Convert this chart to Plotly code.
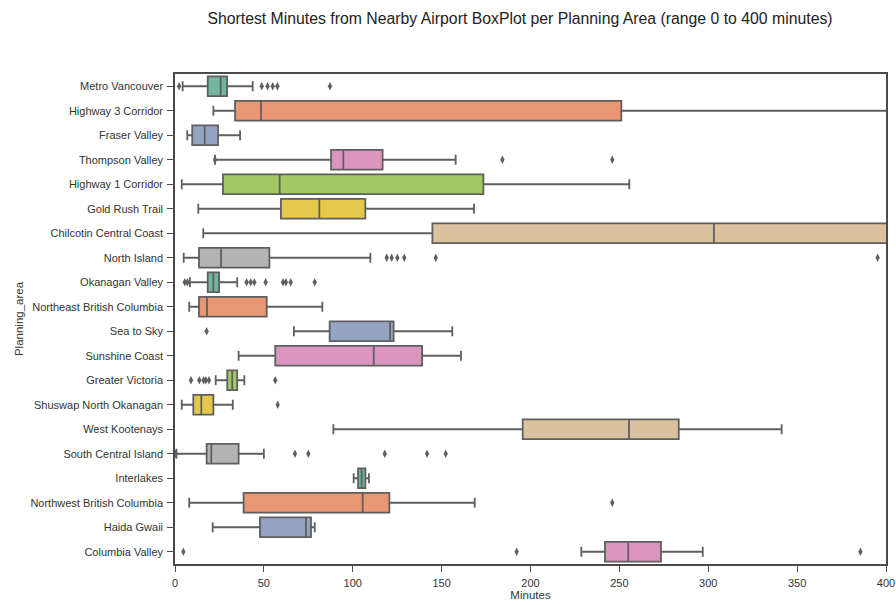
import plotly.graph_objects as go

categories = ["Metro Vancouver", "Highway 3 Corridor", "Fraser Valley", "Thompson Valley",
              "Highway 1 Corridor", "Gold Rush Trail", "Chilcotin Central Coast", "North Island",
              "Okanagan Valley", "Northeast British Columbia", "Sea to Sky", "Sunshine Coast",
              "Greater Victoria", "Shuswap North Okanagan", "West Kootenays", "South Central Island",
              "Interlakes", "Northwest British Columbia", "Haida Gwaii", "Columbia Valley"]

lower_fence = [4.3, 21.6, 6.9, 22.5, 3.8, 13.1, 15.9, 4.9, 8.4, 8.0,
               66.9, 35.8, 22.9, 3.8, 89.1, 0.8, 100.5, 8.0, 21.2, 228.6]
q1 = [18.4, 33.8, 9.7, 87.8, 27.0, 59.6, 144.8, 13.5, 18.4, 13.5,
      87.0, 56.4, 29.4, 10.3, 195.6, 17.8, 103.0, 38.6, 47.8, 241.9]
median = [25.7, 48.4, 16.7, 94.7, 58.9, 81.2, 303.2, 25.9, 21.6, 18.0,
          121.0, 111.8, 32.2, 14.8, 255.4, 20.4, 105.0, 105.6, 73.7, 255.0]
q3 = [29.3, 251.1, 24.2, 116.8, 173.5, 107.1, 430.0, 53.1, 24.8, 51.6,
      123.0, 139.0, 35.0, 21.6, 283.4, 35.8, 107.1, 120.6, 76.5, 273.4]
upper_fence = [43.7, 450.0, 36.6, 157.9, 255.6, 168.2, 480.0, 109.9, 35.0, 82.9,
               156.0, 160.9, 39.0, 32.5, 341.3, 50.0, 109.1, 168.6, 78.6, 296.9]
fliers = [
    [2.3, 48.8, 52.1, 55.0, 57.6, 87.2],
    [],
    [],
    [22.5, 184.2, 246.0],
    [],
    [],
    [],
    [119.1, 121.9, 125.1, 129.0, 146.7, 395.3],
    [5.5, 7.0, 40.3, 42.6, 44.6, 51.0, 60.8, 62.4, 65.1, 78.6],
    [],
    [17.8],
    [],
    [9.0, 13.7, 16.1, 17.4, 19.1, 56.4],
    [57.8],
    [],
    [0.4, 67.5, 75.0, 118.0, 141.8, 152.3],
    [],
    [246.0],
    [],
    [4.7, 192.2, 385.6],
]
x_ticks = [0, 50, 100, 150, 200, 250, 300, 350, 400]

palette = ["#72b6a1", "#e99675", "#95a3c3", "#db96c0", "#a2c864", "#e5c849", "#dbc29e", "#b3b3b3"]
line_col = "#5f5f5f"

fig = go.Figure()
for i, cat in enumerate(categories):
    fig.add_trace(go.Box(
        orientation="h", y=[cat], q1=[q1[i]], median=[median[i]], q3=[q3[i]],
        lowerfence=[lower_fence[i]], upperfence=[upper_fence[i]],
        fillcolor=palette[i % len(palette)], line=dict(color=line_col, width=1.8),
        width=0.8, whiskerwidth=0.5, boxpoints=False, showlegend=False, hoverinfo="skip"))

fx, fy = [], []
for cat, fl in zip(categories, fliers):
    for v in fl:
        fx.append(v)
        fy.append(cat)
fig.add_trace(go.Scatter(x=fx, y=fy, mode="markers", showlegend=False,
                         marker=dict(symbol="diamond-tall", size=6, color=line_col,
                                     line=dict(width=0))))

axis_common = dict(showline=True, linecolor="#4a4a4a", linewidth=1.5, mirror=True,
                   ticks="outside", ticklen=6, tickwidth=1.2, tickcolor="#4a4a4a",
                   showgrid=False, zeroline=False, automargin=False,
                   tickfont=dict(size=11, color="#333333"))

W, H = 896, 605
fig.update_layout(
    width=W, height=H,
    paper_bgcolor="white", plot_bgcolor="white",
    font=dict(family="Liberation Sans, Arial, sans-serif", color="#333333"),
    margin=dict(l=175, r=10, t=74, b=41),
    title=dict(text="Shortest Minutes from Nearby Airport BoxPlot per Planning Area (range 0 to 400 minutes)",
               x=520 / W, xanchor="center", y=1 - 18 / H, yanchor="middle",
               font=dict(size=15.8, color="#222222")),
    boxmode="overlay",
    xaxis=dict(range=[0, 400], tickvals=x_ticks, ticklabelstandoff=2, ticklabeloverflow="allow",
               title=dict(text="Minutes", font=dict(size=11.5), standoff=2),
               **axis_common),
    yaxis=dict(type="category", categoryorder="array", categoryarray=categories,
               range=[len(categories) - 0.5, -0.5], ticklabelstandoff=2,
               title=dict(text="Planning_area", font=dict(size=11.5), standoff=4), **axis_common),
)

# remove the default page margin and scrollbars so the figure fills the window exactly
page_fix = ("document.documentElement.style.overflow='hidden';"
            "document.body.style.margin='0';document.body.style.overflow='hidden';")
fig.write_html("out.html", post_script=page_fix, config={"displayModeBar": False})
